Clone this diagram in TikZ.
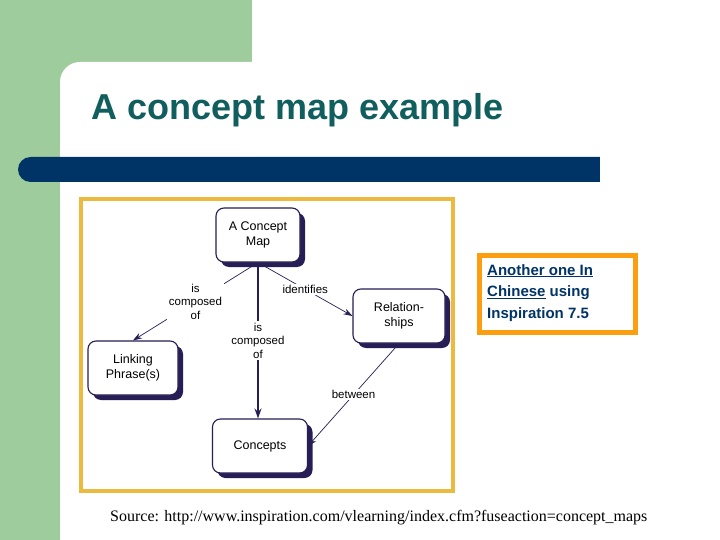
\documentclass[tikz,border=0pt]{standalone}
\usepackage{fontspec}
\setmainfont{Liberation Sans}
\newfontfamily\srcfont{Liberation Serif}
\usetikzlibrary{shadows,arrows.meta}
\definecolor{slidegreen}{RGB}{158,204,156}
\definecolor{navybar}{RGB}{0,51,102}
\definecolor{titleteal}{RGB}{16,94,94}
\definecolor{frameyellow}{RGB}{236,186,62}
\definecolor{boxorange}{RGB}{252,158,16}
\definecolor{mapink}{RGB}{38,30,84}
\begin{document}
\begin{tikzpicture}[x=1pt,y=-1pt,
    concept/.style={draw=mapink, line width=1.1pt, fill=white, rounded corners=8pt,
        minimum height=54pt, align=center, font=\fontsize{12.5}{14.5}\selectfont,
        drop shadow={shadow xshift=5pt, shadow yshift=-5pt, fill=mapink, opacity=1}},
    lbl/.style={fill=white, inner sep=1.5pt, align=center, font=\fontsize{11.5}{13.5}\selectfont},
    thinlink/.style={draw=mapink, line width=0.7pt, shorten <=6pt, -{Stealth[length=9pt,width=6pt]}},
    thicklink/.style={draw=mapink, line width=2pt, -{Stealth[length=10pt,width=7pt]}}]
    \useasboundingbox (0,0) rectangle (720,540);
    % slide background
    \fill[slidegreen] (0,0) rectangle (252,540);
    \fill[white] (60,540) [rounded corners=20pt] -- (60,62) [sharp corners] -- (253,62) -- (253,540) -- cycle;
    \node[anchor=base west, inner sep=0pt, text=titleteal, font=\fontsize{36}{42}\selectfont\bfseries] (title) at (91,120) {A concept map example};
    \fill[navybar, rounded corners=12.5pt] (18,157) rectangle (620,182);
    \fill[white] (600,150) rectangle (625,190);

    % the concept map
    \draw[frameyellow, line width=4pt] (81,199) rectangle (453,491);
    \node[concept, minimum width=84pt] (map) at (258,235) {A Concept\\Map};
    \node[concept, minimum width=92pt] (rel) at (399,316) {Relation-\\ships};
    \node[concept, minimum width=90pt] (link) at (133,368) {Linking\\Phrase(s)};
    \node[concept, minimum width=95pt] (conc) at (260,446) {Concepts};

    \draw[thicklink] (map.south) -- node[lbl]{is\\composed\\of} (map.south |- conc.north);
    \draw[thinlink] (map.south) -- node[lbl]{is\\composed\\of} (link.north);
    \draw[thinlink] (map.south) -- node[lbl]{identifies} (rel.west);
    \draw[thinlink, shorten <=4pt] (rel.south) -- node[lbl]{between} (conc.east);

    % link box
    \draw[boxorange, line width=5pt] (479.5,255.5) rectangle (635.5,332.5);
    \node[anchor=north west, align=left, text=navybar, inner sep=0pt,
        font=\fontsize{15}{21.5}\selectfont\bfseries] (other) at (487,264)
        {\underline{Another one In}\\\underline{Chinese} using\\Inspiration 7.5};

    \node[anchor=base west, inner sep=0pt, font=\srcfont\fontsize{16}{19}\selectfont] (source) at (110,521)
        {Source: http://www.inspiration.com/vlearning/index.cfm?fuseaction=concept\_maps};
\end{tikzpicture}
\end{document}
